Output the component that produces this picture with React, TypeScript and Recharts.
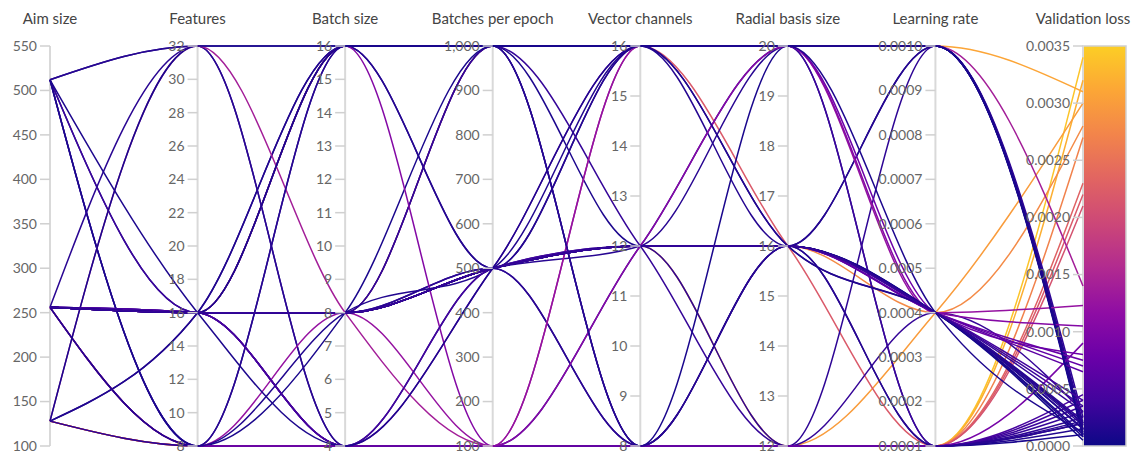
import React from 'react';
import {
  LineChart,
  Line,
  XAxis,
  YAxis,
  ReferenceLine,
  ReferenceDot,
  ReferenceArea,
} from 'recharts';

const dims = [
  'Aim size',
  'Features',
  'Batch size',
  'Batches per epoch',
  'Vector channels',
  'Radial basis size',
  'Learning rate',
  'Validation loss',
];

const domains: [number, number][] = [
  [100, 550],
  [8, 32],
  [4, 16],
  [100, 1000],
  [8, 16],
  [12, 20],
  [0.0001, 0.001],
  [0, 0.0035],
];

// one entry per run, in logging order (later runs are drawn on top)
const aimSize = [
  128, 128, 256, 256, 256, 256, 128, 256, 256,
  512, 256, 256, 256, 128, 256, 512, 512, 256, 256, 256, 512,
  256, 512, 256, 128, 256, 512, 256, 256, 512, 256,
  256, 128, 128, 256, 256, 256, 256, 256,
  128, 256, 128, 256, 256, 256, 256, 256, 256, 256, 512,
];
const features = [
  8, 8, 16, 16, 16, 16, 8, 8, 8,
  32, 16, 16, 16, 16, 16, 8, 16, 16, 16, 16, 16,
  16, 8, 16, 16, 16, 8, 16, 8, 32, 32,
  8, 32, 8, 16, 16, 16, 16, 16,
  8, 8, 32, 16, 16, 16, 16, 16, 16, 16, 16,
];
const batchSize = [
  4, 4, 8, 8, 16, 8, 4, 4, 4,
  16, 16, 8, 8, 16, 8, 16, 8, 16, 8, 8, 8,
  4, 4, 4, 16, 8, 8, 4, 4, 4, 4,
  4, 8, 8, 16, 4, 8, 8, 8,
  16, 8, 16, 16, 4, 8, 8, 8, 8, 8, 4,
];
const batchesPerEpoch = [
  100, 100, 500, 500, 1000, 1000, 100, 100, 100,
  1000, 1000, 500, 1000, 500, 500, 1000, 500, 500, 500, 1000, 500,
  100, 100, 100, 1000, 500, 1000, 100, 100, 500, 100,
  100, 100, 100, 100, 500, 500, 500, 500,
  1000, 500, 1000, 1000, 500, 500, 500, 500, 500, 500, 500,
];
const vectorChannels = [
  8, 8, 12, 12, 16, 16, 8, 8, 8,
  16, 16, 12, 12, 16, 8, 16, 12, 16, 8, 12, 12,
  8, 8, 8, 8, 12, 8, 12, 8, 12, 8,
  8, 16, 16, 12, 16, 12, 12, 12,
  8, 16, 16, 16, 12, 12, 12, 12, 12, 12, 16,
];
const radialBasisSize = [
  12, 12, 12, 16, 20, 16, 12, 12, 12,
  20, 20, 20, 16, 16, 12, 20, 16, 16, 16, 12, 16,
  12, 12, 12, 16, 12, 20, 20, 12, 16, 12,
  12, 20, 20, 20, 20, 16, 16, 16,
  16, 16, 20, 20, 16, 16, 16, 16, 16, 16, 20,
];
const learningRate = [
  0.0001, 0.0001, 0.0004, 0.0004, 0.001, 0.0001, 0.0001, 0.0001, 0.0001,
  0.001, 0.001, 0.001, 0.001, 0.001, 0.001, 0.001,
  0.0004, 0.0004, 0.0004, 0.0004, 0.0004,
  0.0001, 0.0001, 0.0001, 0.0001, 0.0001, 0.0001, 0.0001, 0.0001, 0.0004, 0.0001,
  0.0001, 0.001, 0.0004, 0.0004, 0.0004, 0.0004, 0.0004, 0.0004,
  0.0001, 0.0004, 0.001, 0.001, 0.0004, 0.0004, 0.0004, 0.0004, 0.0004, 0.0004, 0.0004,
];
const validationLoss = [
  0.0034, 0.0032, 0.003, 0.0028, 0.0031, 0.0022, 0.0027, 0.0023, 0.0021,
  0.0001, 0.00015, 0.0002, 0.00012, 0.00018, 0.00025, 0.00014,
  0.00008, 0.00018, 0.00022, 0.0003, 0.00035,
  0.0004, 0.0003, 0.0002, 0.00015, 0.00025, 0.0001, 0.00035, 0.00045, 0.0002, 0.00022,
  0.0009, 0.0014, 0.00123, 0.00105, 0.0008, 0.00075, 0.0007, 0.00065,
  0.0002, 0.00015, 0.0001, 0.00008, 0.0004, 0.00005, 0.0001, 0.00015, 0.0002, 0.0003, 0.00012,
];

const aimTicks = [100, 150, 200, 250, 300, 350, 400, 450, 500, 550];
const featureTicks = [8, 10, 12, 14, 16, 18, 20, 22, 24, 26, 28, 30, 32];
const batchTicks = [4, 5, 6, 7, 8, 9, 10, 11, 12, 13, 14, 15, 16];
const epochTicks = [100, 200, 300, 400, 500, 600, 700, 800, 900, 1000];
const channelTicks = [8, 9, 10, 11, 12, 13, 14, 15, 16];
const radialTicks = [12, 13, 14, 15, 16, 17, 18, 19, 20];
const lrTicks = [0.0001, 0.0002, 0.0003, 0.0004, 0.0005, 0.0006, 0.0007, 0.0008, 0.0009, 0.001];
const lossTicks = [0, 0.0005, 0.001, 0.0015, 0.002, 0.0025, 0.003, 0.0035];

const allTicks = [aimTicks, featureTicks, batchTicks, epochTicks, channelTicks, radialTicks, lrTicks, lossTicks];
const columns = [aimSize, features, batchSize, batchesPerEpoch, vectorChannels, radialBasisSize, learningRate, validationLoss];

const fmt = (d: number, v: number) => {
  if (d >= 6) return v.toFixed(4);
  return v.toLocaleString('en-US');
};

const norm = (d: number, v: number) => (v - domains[d][0]) / (domains[d][1] - domains[d][0]);

// plasma, cut off before the bright yellow end
const plasma = ['#0d0887', '#41049d', '#6a00a8', '#8f0da4', '#b12a90', '#cc4778', '#e16462', '#f2844b', '#fca636', '#fcce25'];

const hexToRgb = (h: string) => [1, 3, 5].map((i) => parseInt(h.slice(i, i + 2), 16));

const lossColor = (loss: number) => {
  const t = Math.max(0, Math.min(1, loss / 0.0035)) * (plasma.length - 1);
  const i = Math.min(Math.floor(t), plasma.length - 2);
  const f = t - i;
  const a = hexToRgb(plasma[i]);
  const b = hexToRgb(plasma[i + 1]);
  const c = a.map((x, k) => Math.round(x + (b[k] - x) * f));
  return `rgb(${c[0]},${c[1]},${c[2]})`;
};

const chartData = dims.map((name, d) => {
  const row: Record<string, number | string> = { dim: name };
  columns[d].forEach((v, i) => {
    row['r' + i] = norm(d, v);
  });
  return row;
});

const font = "Lato, 'Source Sans Pro', 'Open Sans', sans-serif";

export default function App() {
  return (
    <div style={{ position: 'absolute', left: 0, top: 0, background: '#fff' }}>
      <LineChart
        width={1134}
        height={453}
        data={chartData}
        margin={{ top: 46, right: 51, bottom: 7, left: 50 }}
      >
        <defs>
          <linearGradient id="plasma" x1="0" y1="1" x2="0" y2="0">
            {plasma.map((c, i) => (
              <stop key={c} offset={i / (plasma.length - 1)} stopColor={c} />
            ))}
          </linearGradient>
        </defs>
        <XAxis dataKey="dim" hide />
        <YAxis type="number" domain={[0, 1]} hide />

        {dims.map((name) => (
          <ReferenceLine key={name} x={name} stroke="#d9d9d9" strokeWidth={2} ifOverflow="visible" />
        ))}

        <ReferenceArea
          x1="Validation loss"
          x2="Validation loss"
          y1={0}
          y2={1}
          ifOverflow="visible"
          shape={(p: any) => (
            <rect
              x={p.x}
              y={p.y}
              width={43}
              height={p.height}
              fill="url(#plasma)"
              stroke="#d0d0d0"
              strokeWidth={1.5}
            />
          )}
        />

        {dims.map((name, d) =>
          allTicks[d].map((t) => (
            <ReferenceDot
              key={name + t}
              x={name}
              y={norm(d, t)}
              r={0}
              ifOverflow="visible"
              shape={(p: any) => (
                <g>
                  <line x1={p.cx - 10} x2={p.cx} y1={p.cy} y2={p.cy} stroke="#d0d0d0" strokeWidth={1.5} />
                  <text
                    x={p.cx - 13}
                    y={p.cy}
                    dy="0.35em"
                    textAnchor="end"
                    fontSize={14}
                    fontFamily={font}
                    fill="#666"
                  >
                    {fmt(d, t)}
                  </text>
                </g>
              )}
            />
          ))
        )}

        {dims.map((name) => (
          <ReferenceDot
            key={'title' + name}
            x={name}
            y={1}
            r={0}
            ifOverflow="visible"
            shape={(p: any) => (
              <text
                x={p.cx}
                y={p.cy - 22}
                textAnchor="middle"
                fontSize={15}
                fontFamily={font}
                fill="#444"
              >
                {name}
              </text>
            )}
          />
        ))}

        {validationLoss.map((loss, i) => (
          <Line
            key={i}
            type="monotone"
            dataKey={'r' + i}
            stroke={lossColor(loss)}
            strokeWidth={1.5}
            dot={false}
            activeDot={false}
            isAnimationActive={false}
          />
        ))}
      </LineChart>
    </div>
  );
}
